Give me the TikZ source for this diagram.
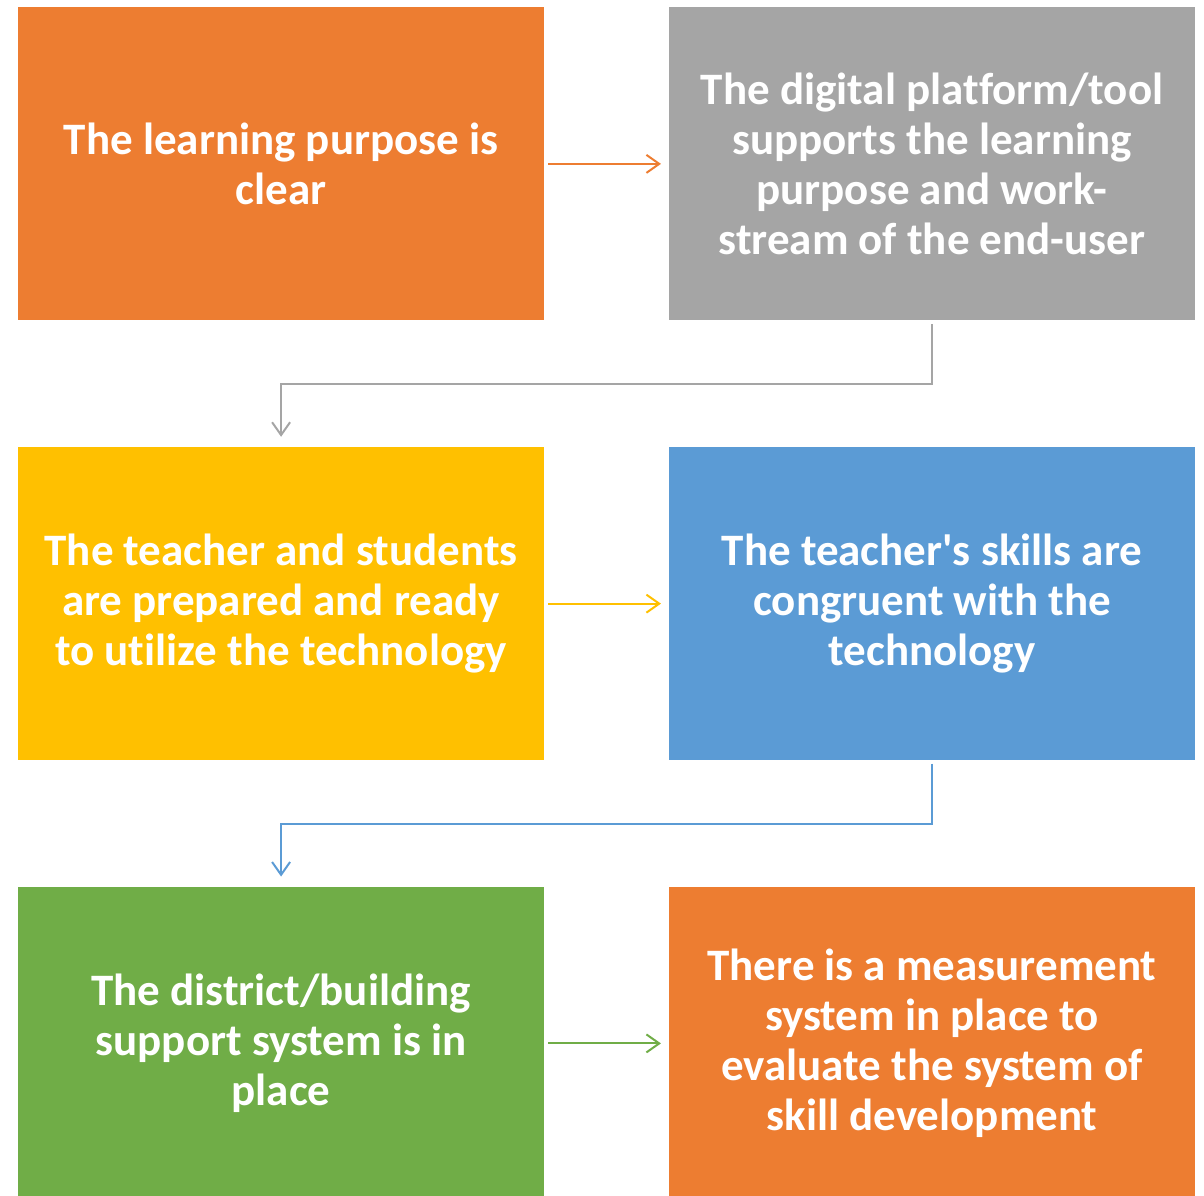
\documentclass[tikz,border=0pt]{standalone}
\usepackage{fontspec}
\setmainfont{Carlito}[Ligatures={TeXOff,NoCommon}]
\usetikzlibrary{positioning,arrows.meta,calc}

\definecolor{boxorange}{HTML}{ED7D31}
\definecolor{boxgray}{HTML}{A5A5A5}
\definecolor{boxyellow}{HTML}{FFC000}
\definecolor{boxblue}{HTML}{5B9BD5}
\definecolor{boxgreen}{HTML}{70AD47}

\begin{document}
\begin{tikzpicture}[node distance={3.15cm and 3.12cm},
	main/.style = {minimum width=13.14cm, minimum height=7.83cm, inner sep=0pt, text=white, align=center,
		font=\fontsize{32}{35.5}\selectfont\bfseries},
	arr/.style = {line width=0.05cm, -{Straight Barb[length=0.32cm, width=0.45cm]}}]
	\useasboundingbox (0,0) rectangle (30.1,-29.9);
	\node[main, fill=boxorange, anchor=north west] (1) at (0.45,-0.175) {The learning purpose is\\clear};
	\node[main, fill=boxgray] (2) [right=of 1] {The digital platform/tool\\supports the learning\\purpose and work-\\stream of the end-user};
	\node[main, fill=boxyellow] (3) [below=of 1] {The teacher and students\\are prepared and ready\\to utilize the technology};
	\node[main, fill=boxblue] (4) [right=of 3] {The teacher's skills are\\congruent with the\\technology};
	\node[main, fill=boxgreen] (5) [below=of 3] {The district/building\\support system is in\\place};
	\node[main, fill=boxorange] (6) [right=of 5] {There is a measurement\\system in place to\\evaluate the system of\\skill development};
	\draw[arr, boxorange, shorten <=0.1cm, shorten >=0.2cm] (1) -- (2);
	\draw[arr, boxgray, shorten <=0.08cm, shorten >=0.25cm] (2.south) |- ($(2.south)!.5!(3.north)$) -| (3.north);
	\draw[arr, boxyellow, shorten <=0.1cm, shorten >=0.2cm] (3) -- (4);
	\draw[arr, boxblue, shorten <=0.08cm, shorten >=0.25cm] (4.south) |- ($(4.south)!.5!(5.north)$) -| (5.north);
	\draw[arr, boxgreen, shorten <=0.1cm, shorten >=0.2cm] (5) -- (6);
\end{tikzpicture}
\end{document}
